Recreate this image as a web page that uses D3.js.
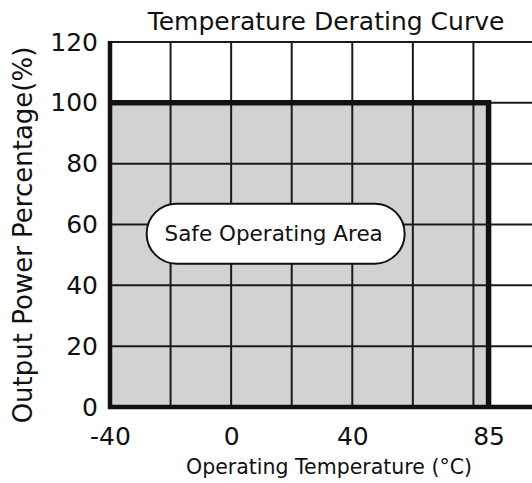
<!DOCTYPE html>
<html>
<head>
<meta charset="utf-8">
<script src="https://cdn.jsdelivr.net/npm/d3@7"></script>
<style>
  body { margin: 0; background: #fff; }
  svg { display: block; font-family: "DejaVu Sans", sans-serif; }
</style>
</head>
<body>
<svg width="532" height="483"></svg>
<script>
// ==================== DATA ====================
var xTickValues = [-40, 0, 40, 85];
var yTickValues = [0, 20, 40, 60, 80, 100, 120];
var xGridValues = [-20, 0, 20, 40, 60, 80, 100];
var yGridValues = [20, 40, 60, 80, 100, 120];
var curveTemp = [-40, 85, 85];
var curvePower = [100, 100, 0];
var title = "Temperature Derating Curve";
var xTitle = "Operating Temperature (°C)";
var yTitle = "Output Power Percentage(%)";
var areaLabel = "Safe Operating Area";

var svg = d3.select("svg");

var x = d3.scaleLinear().domain([-40, 100]).range([110, 534]);
var y = d3.scaleLinear().domain([0, 120]).range([407, 42]);

var curve = curveTemp.map(function(t, i) { return { t: t, p: curvePower[i] }; });

// safe area fill
var area = d3.area()
    .x(function(d) { return x(d.t); })
    .y0(y(0))
    .y1(function(d) { return y(d.p); });
svg.append("path")
    .datum(curve.slice(0, 2))
    .attr("d", area)
    .attr("fill", "#d2d2d2");

// grid
svg.append("g").selectAll("line")
    .data(xGridValues)
    .enter().append("line")
    .attr("x1", function(d) { return x(d); })
    .attr("x2", function(d) { return x(d); })
    .attr("y1", y(120))
    .attr("y2", y(0))
    .attr("stroke", "#1a1a1a")
    .attr("stroke-width", 2);

svg.append("g").selectAll("line")
    .data(yGridValues)
    .enter().append("line")
    .attr("x1", x(-40))
    .attr("x2", 532)
    .attr("y1", function(d) { return y(d); })
    .attr("y2", function(d) { return y(d); })
    .attr("stroke", "#1a1a1a")
    .attr("stroke-width", 2);

// derating curve
var line = d3.line()
    .x(function(d) { return x(d.t); })
    .y(function(d) { return y(d.p); });
svg.append("path")
    .datum(curve)
    .attr("d", line)
    .attr("fill", "none")
    .attr("stroke", "#111")
    .attr("stroke-width", 5.5)
    .attr("stroke-linejoin", "miter");

// axes lines (thick left + bottom)
svg.append("line")
    .attr("x1", x(-40)).attr("x2", x(-40))
    .attr("y1", y(120) - 1).attr("y2", y(0) + 2)
    .attr("stroke", "#111").attr("stroke-width", 4.5);
svg.append("line")
    .attr("x1", x(-40) - 2).attr("x2", 532)
    .attr("y1", y(0)).attr("y2", y(0))
    .attr("stroke", "#111").attr("stroke-width", 4.5);

// tick labels
var yAxis = svg.append("g")
    .attr("transform", "translate(" + x(-40) + ",0)")
    .call(d3.axisLeft(y).tickValues(yTickValues).tickSize(0).tickPadding(12));
yAxis.select(".domain").remove();
yAxis.selectAll("text")
    .attr("font-size", 25)
    .attr("font-family", "DejaVu Sans")
    .attr("fill", "#111");

var xAxis = svg.append("g")
    .attr("transform", "translate(0," + y(0) + ")")
    .call(d3.axisBottom(x).tickValues(xTickValues).tickSize(0).tickPadding(20)
        .tickFormat(function(d) { return String(d); }));
xAxis.select(".domain").remove();
xAxis.selectAll("text")
    .attr("font-size", 25)
    .attr("font-family", "DejaVu Sans")
    .attr("fill", "#111");

// titles
svg.append("text")
    .attr("x", 326)
    .attr("y", 30)
    .attr("text-anchor", "middle")
    .attr("font-size", 25)
    .attr("fill", "#111")
    .text(title);

svg.append("text")
    .attr("x", 329)
    .attr("y", 474)
    .attr("text-anchor", "middle")
    .attr("font-size", 20.5)
    .attr("fill", "#111")
    .text(xTitle);

svg.append("text")
    .attr("transform", "translate(32,235) rotate(-90)")
    .attr("text-anchor", "middle")
    .attr("font-size", 26)
    .attr("fill", "#111")
    .text(yTitle);

// safe operating area label
var lbl = svg.append("g")
    .attr("transform", "translate(" + x(14.7) + "," + y(57) + ")");
lbl.append("rect")
    .attr("x", -129).attr("y", -30)
    .attr("width", 258).attr("height", 60)
    .attr("rx", 30).attr("ry", 30)
    .attr("fill", "#fff")
    .attr("stroke", "#111")
    .attr("stroke-width", 2);
lbl.append("text")
    .attr("x", -2)
    .attr("text-anchor", "middle")
    .attr("dy", "0.36em")
    .attr("font-size", 21.5)
    .attr("fill", "#111")
    .text(areaLabel);
</script>
</body>
</html>
